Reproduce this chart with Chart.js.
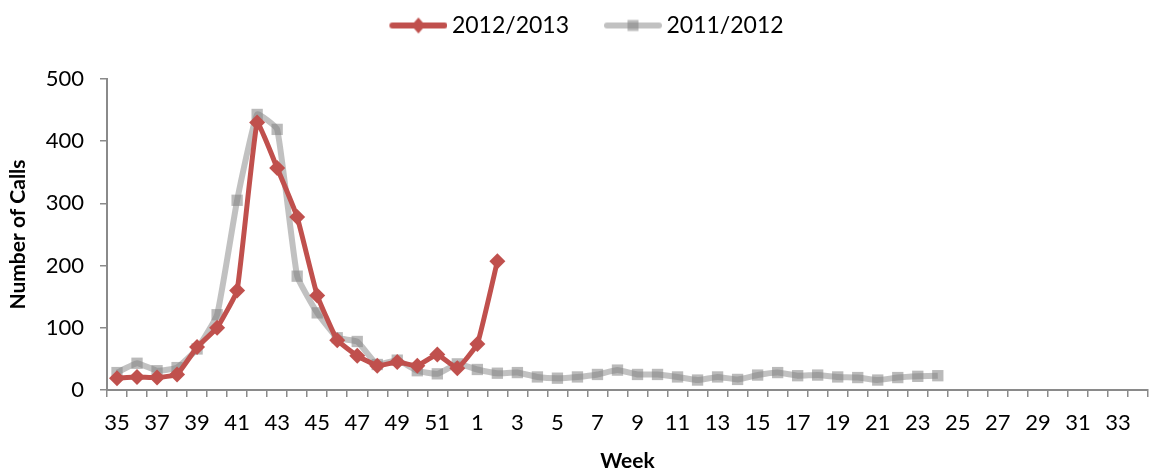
<!DOCTYPE html>
<html>
<head>
<meta charset="utf-8">
<script src="https://cdn.jsdelivr.net/npm/chart.js@4/dist/chart.umd.min.js"></script>
<style>
    html, body { margin: 0; padding: 0; background: #fff; overflow: hidden; }
    #callsChart { display: block; }
</style>
</head>
<body>
<canvas id="callsChart" width="1157" height="474"></canvas>
<script>
// Weeks from 35 through 52, then 1 through 34
const weeks = ['35','36','37','38','39','40','41','42','43','44','45','46','47','48','49','50','51','52',
    '1','2','3','4','5','6','7','8','9','10','11','12','13','14','15','16','17','18','19','20',
    '21','22','23','24','25','26','27','28','29','30','31','32','33','34'];

// Season 2012/2013 (weeks 35 .. 2)
const calls2012 = [19, 21, 20, 25, 69, 100, 160, 430, 357, 278, 152, 80, 55, 39, 45, 39, 57, 35, 74, 207];

// Season 2011/2012 (weeks 35 .. 24)
const calls2011 = [28, 43, 31, 36, 66, 121, 305, 443, 419, 183, 124, 84, 78, 41, 48, 31, 26, 42,
    33, 27, 28, 21, 19, 21, 25, 32, 25, 25, 21, 16, 21, 17, 24, 28, 23, 24, 21, 20, 16, 20, 22, 23];

const yTicks = [0, 100, 200, 300, 400, 500];

const red = '#c0504d';
const greyLine = 'rgba(160,160,160,0.65)';
const greyMark = 'rgba(130,130,130,0.55)';
const axisGrey = '#8a8a8a';
const fontFamily = 'Lato, "Open Sans", sans-serif';

// Legend swatch: line with marker, drawn on the right part of the image
function makeSwatch(lineColor, markColor, shape) {
    const c = document.createElement('canvas');
    c.width = 90;
    c.height = 18;
    const ctx = c.getContext('2d');
    const x0 = 32;
    ctx.strokeStyle = lineColor;
    ctx.lineWidth = 6;
    ctx.lineCap = 'round';
    ctx.beginPath();
    ctx.moveTo(x0 + 3, 9);
    ctx.lineTo(x0 + 55, 9);
    ctx.stroke();
    ctx.fillStyle = markColor;
    ctx.beginPath();
    if (shape === 'diamond') {
        ctx.moveTo(x0 + 29, 1); ctx.lineTo(x0 + 36, 9); ctx.lineTo(x0 + 29, 17); ctx.lineTo(x0 + 22, 9);
    } else {
        ctx.rect(x0 + 23.5, 3.5, 11, 11);
    }
    ctx.closePath();
    ctx.fill();
    return c;
}

const swatch2012 = makeSwatch(red, red, 'diamond');
const swatch2011 = makeSwatch(greyLine, greyMark, 'square');

const ctx = document.getElementById('callsChart').getContext('2d');
const callsChart = new Chart(ctx, {
    type: 'line',
    data: {
        labels: weeks,
        datasets: [
            {
                label: '2012/2013',
                data: calls2012,
                borderColor: red,
                backgroundColor: red,
                borderWidth: 5,
                pointStyle: 'rectRot',
                pointRadius: 8,
                pointBorderWidth: 0,
                tension: 0.1,
                fill: false
            },
            {
                label: '2011/2012',
                data: calls2011,
                borderColor: greyLine,
                backgroundColor: greyMark,
                borderWidth: 6,
                pointStyle: 'rect',
                pointRadius: 8,
                pointBorderWidth: 0,
                tension: 0.12,
                fill: false
            }
        ]
    },
    options: {
        responsive: false,
        animation: false,
        maintainAspectRatio: false,
        layout: { padding: { top: 4, right: 9, bottom: 0, left: 0 } },
        plugins: {
            tooltip: { enabled: false },
            legend: {
                position: 'top',
                labels: {
                    usePointStyle: true,
                    pointStyleWidth: 76,
                    padding: 10,
                    color: '#000',
                    font: { family: fontFamily, size: 23 },
                    generateLabels: (chart) => [
                        { text: '2012/2013', pointStyle: swatch2012, datasetIndex: 0, lineWidth: 0, fontColor: '#000' },
                        { text: '2011/2012', pointStyle: swatch2011, datasetIndex: 1, lineWidth: 0, fontColor: '#000' }
                    ]
                }
            },
            // empty title used as a spacer between legend and plot
            title: {
                display: true,
                text: '',
                weight: 500,
                padding: 0,
                font: { size: 32, lineHeight: 1 }
            }
        },
        scales: {
            x: {
                type: 'category',
                offset: true,
                border: { color: axisGrey, width: 2 },
                grid: {
                    offset: true,
                    drawOnChartArea: false,
                    drawTicks: true,
                    tickLength: 7,
                    tickColor: axisGrey,
                    lineWidth: 1.5
                },
                ticks: {
                    autoSkip: false,
                    maxRotation: 0,
                    padding: 13,
                    color: '#000',
                    font: { family: fontFamily, size: 22 },
                    callback: function (value, index) {
                        return index % 2 === 0 ? this.getLabelForValue(value) : '';
                    }
                },
                title: {
                    display: true,
                    text: 'Week',
                    color: '#000',
                    font: { family: fontFamily, size: 21, weight: 'bold' },
                    padding: { top: 4, bottom: 0 }
                },
                afterFit: (scale) => { scale.height = 84; }
            },
            y: {
                min: 0,
                max: 500,
                afterBuildTicks: (scale) => { scale.ticks = yTicks.map(v => ({ value: v })); },
                border: { color: axisGrey, width: 2 },
                grid: {
                    drawOnChartArea: false,
                    drawTicks: true,
                    tickLength: 7,
                    tickColor: axisGrey,
                    lineWidth: 1.5
                },
                ticks: {
                    padding: 16,
                    color: '#000',
                    font: { family: fontFamily, size: 22 }
                },
                title: {
                    display: true,
                    text: 'Number of Calls',
                    color: '#000',
                    font: { family: fontFamily, size: 21, weight: 'bold' },
                    padding: { top: 6, bottom: 0 }
                },
                afterFit: (scale) => { scale.width = 107; }
            }
        }
    }
});
</script>
</body>
</html>
